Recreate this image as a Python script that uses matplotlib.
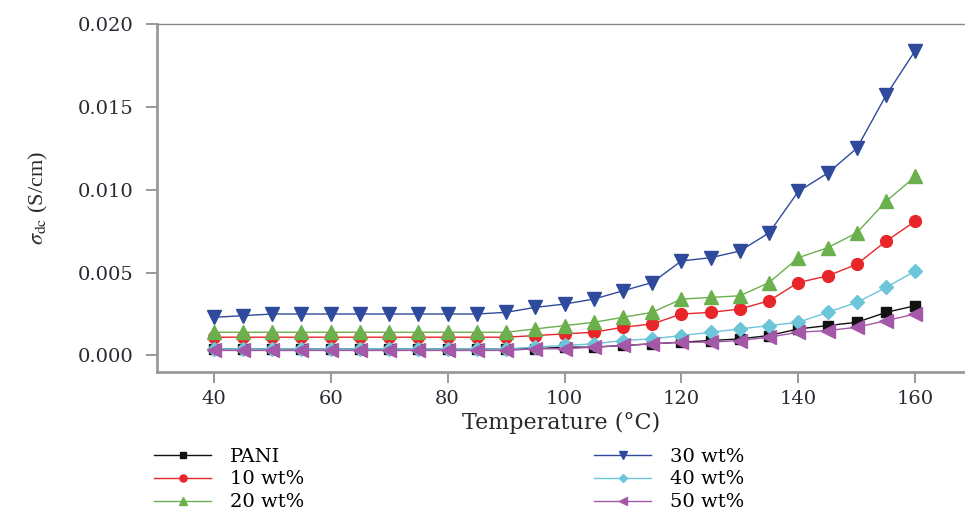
import matplotlib
matplotlib.use("Agg")
import matplotlib.pyplot as plt
import numpy as np

temperature = [40, 45, 50, 55, 60, 65, 70, 75, 80, 85, 90, 95, 100,
               105, 110, 115, 120, 125, 130, 135, 140, 145, 150, 155, 160]

pani = [0.0004, 0.0004, 0.0004, 0.0004, 0.0004, 0.0004, 0.0004, 0.0004, 0.0004,
        0.0004, 0.0004, 0.0004, 0.0005, 0.0005, 0.0006, 0.0007, 0.0008, 0.0009,
        0.0010, 0.0012, 0.0016, 0.0018, 0.0020, 0.0026, 0.0030]
wt10 = [0.0011, 0.0011, 0.0011, 0.0011, 0.0011, 0.0011, 0.0011, 0.0011, 0.0011,
        0.0011, 0.0011, 0.0012, 0.0013, 0.0014, 0.0017, 0.0019, 0.0025, 0.0026,
        0.0028, 0.0033, 0.0044, 0.0048, 0.0055, 0.0069, 0.0081]
wt20 = [0.0014, 0.0014, 0.0014, 0.0014, 0.0014, 0.0014, 0.0014, 0.0014, 0.0014,
        0.0014, 0.0014, 0.0016, 0.0018, 0.0020, 0.0023, 0.0026, 0.0034, 0.0035,
        0.0036, 0.0044, 0.0059, 0.0065, 0.0074, 0.0093, 0.0108]
wt30 = [0.0023, 0.0024, 0.0025, 0.0025, 0.0025, 0.0025, 0.0025, 0.0025, 0.0025,
        0.0025, 0.0026, 0.0029, 0.0031, 0.0034, 0.0039, 0.0044, 0.0057, 0.0059,
        0.0063, 0.0074, 0.0099, 0.0110, 0.0125, 0.0157, 0.0184]
wt40 = [0.0004, 0.0004, 0.0004, 0.0004, 0.0004, 0.0004, 0.0004, 0.0004, 0.0004,
        0.0004, 0.0004, 0.0005, 0.0006, 0.0007, 0.0009, 0.0010, 0.0012, 0.0014,
        0.0016, 0.0018, 0.0020, 0.0026, 0.0032, 0.0041, 0.0051]
wt50 = [0.0003, 0.0003, 0.0003, 0.0003, 0.0003, 0.0003, 0.0003, 0.0003, 0.0003,
        0.0003, 0.0003, 0.0004, 0.0004, 0.0005, 0.0006, 0.0007, 0.0008, 0.0008,
        0.0009, 0.0011, 0.0014, 0.0015, 0.0017, 0.0021, 0.0025]

labels = ["PANI", "10 wt%", "20 wt%", "30 wt%", "40 wt%", "50 wt%"]
colors = ["#111111", "#e8262a", "#6ab04c", "#2f4a9c", "#6cc5d8", "#a557a8"]
markers = ["s", "o", "^", "v", "D", "<"]
sizes = [7, 8.5, 10, 10.5, 7.5, 10]
series = [pani, wt10, wt20, wt30, wt40, wt50]

plt.rcParams["font.family"] = ["DejaVu Serif"]
plt.rcParams["mathtext.fontset"] = "stix"

fig = plt.figure(figsize=(9.65, 5.11), dpi=100)
ax = fig.add_axes([0.1627, 0.272, 0.8373, 0.681])

handles = []
for values, label, color, marker, ms in zip(series, labels, colors, markers, sizes):
    line, = ax.plot(temperature, values, color=color, marker=marker, markersize=ms,
                    linewidth=1.0, markeredgecolor=color, label=label)
    handles.append(line)

ax.set_xlim(30.3, 168.5)
ax.set_ylim(-0.001, 0.020)
ax.set_xticks([40, 60, 80, 100, 120, 140, 160])
ax.set_yticks([0.000, 0.005, 0.010, 0.015, 0.020])
ax.set_yticklabels(["0.000", "0.005", "0.010", "0.015", "0.020"])

ax.spines["right"].set_visible(False)
ax.spines["top"].set_color("#888888")
ax.spines["top"].set_linewidth(1.0)
for side in ["left", "bottom"]:
    ax.spines[side].set_color("#999999")
    ax.spines[side].set_linewidth(2.0)
ax.tick_params(axis="both", direction="out", length=8, width=1.2,
               color="#888888", labelsize=14, labelcolor="#2a2a33", pad=5)
ax.tick_params(axis="y", pad=9)

ax.set_xlabel("Temperature (°C)", fontsize=16, color="#2a2a2a", labelpad=3)
ax.set_ylabel(r"$\sigma_{\rm dc}$ (S/cm)", fontsize=16, color="#2a2a2a",
              labelpad=20, family="Liberation Serif")

legend_kw = dict(loc="upper left", frameon=False, fontsize=14,
                 handlelength=2.9, labelspacing=0.25, handletextpad=1.0,
                 markerscale=0.6, borderaxespad=0.0, borderpad=0.0,
                 bbox_transform=fig.transFigure)
fig.legend(handles[:3], labels[:3], bbox_to_anchor=(0.160, 0.124), **legend_kw)
fig.legend(handles[3:], labels[3:], bbox_to_anchor=(0.616, 0.124), **legend_kw)

fig.savefig("out.png", dpi=100)
